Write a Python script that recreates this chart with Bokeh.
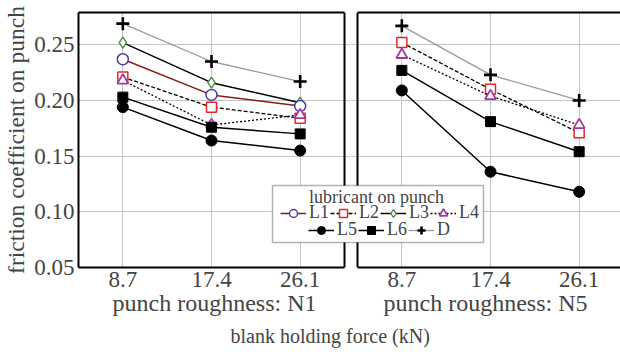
import numpy as np
from bokeh.plotting import figure
from bokeh.models import (Range1d, FixedTicker, Legend, LegendItem, BoxAnnotation,
                          Label, LinearAxis, ColumnDataSource, Span, Title)
from bokeh.layouts import row
from bokeh.embed import file_html
from bokeh.resources import INLINE

NA = float("nan")

# ---------------- data ----------------
force_kN = [8.7, 17.4, 26.1]
force_labels = ["8.7", "17.4", "26.1"]
y_ticks = [0.05, 0.10, 0.15, 0.20, 0.25]
y_tick_labels = ["0.05", "0.10", "0.15", "0.20", "0.25"]
lubricants = ["L1", "L2", "L3", "L4", "L5", "L6", "D"]
panel_titles = ["punch roughness: N1", "punch roughness: N5"]
x_title = "blank holding force (kN)"
y_title = "friction coefficient on punch"
legend_title = "lubricant on punch"

# punch roughness N1
n1_L1 = [0.237, 0.205, 0.195]
n1_L2 = [0.221, 0.194, 0.184]
n1_L3 = [0.252, 0.216, 0.198]
n1_L4 = [0.218, 0.178, 0.187]
n1_L5 = [0.194, 0.164, 0.155]
n1_L6 = [0.203, 0.176, 0.170]
n1_D = [0.269, 0.235, 0.217]

# punch roughness N5 (L1 and L3 not shown)
n5_L1 = [NA, NA, NA]
n5_L2 = [0.252, 0.210, 0.171]
n5_L3 = [NA, NA, NA]
n5_L4 = [0.241, 0.204, 0.178]
n5_L5 = [0.209, 0.136, 0.118]
n5_L6 = [0.227, 0.181, 0.154]
n5_D = [0.267, 0.223, 0.200]

panel_data = [
    dict(L1=n1_L1, L2=n1_L2, L3=n1_L3, L4=n1_L4, L5=n1_L5, L6=n1_L6, D=n1_D),
    dict(L1=n5_L1, L2=n5_L2, L3=n5_L3, L4=n5_L4, L5=n5_L5, L6=n5_L6, D=n5_D),
]

# ---------------- styles / layout ----------------
FONT = "Liberation Serif"
STYLE = {
    "L1": dict(lc="#8b1a1a", dash="solid", lw=1.5, marker="circle", mc="#4b3fa6", mf="white", ms=11, mlw=1.5),
    "L2": dict(lc="black", dash="4 2", lw=1.3, marker="square", mc="#e5262b", mf="white", ms=10, mlw=1.5),
    "L3": dict(lc="black", dash="solid", lw=1.5, marker="diamond", mc="#3c8c3c", mf="white", ms=11, mlw=1.3),
    "L4": dict(lc="black", dash="2 2", lw=1.3, marker="triangle", mc="#a23aa2", mf="white", ms=11, mlw=1.8),
    "L5": dict(lc="black", dash="solid", lw=1.5, marker="circle", mc="black", mf="black", ms=11, mlw=1),
    "L6": dict(lc="black", dash="solid", lw=1.5, marker="square", mc="black", mf="black", ms=10, mlw=1),
    "D": dict(lc="#9a9a9a", dash="solid", lw=1.3, marker="cross", mc="black", mf="black", ms=13, mlw=2.6),
}

H = 352
SPLIT = 350                       # page x where the two canvases meet
FRAME_TOP = 12
FRAME_BOTTOM = 267
X_PAD = 4.35
PANEL_BOX = [(78, 344), (357, 620)]   # page x of the panel borders
FRAME_X = [(78, SPLIT), (SPLIT, 620)]  # page x of each figure's frame
CANVAS_X = [(0, SPLIT), (SPLIT, 620)]
px_per_unit = (PANEL_BOX[0][1] - PANEL_BOX[0][0]) / (force_kN[-1] - force_kN[0] + 2 * X_PAD)


def no_ticks(ax):
    ax.major_tick_line_color = None
    ax.minor_tick_line_color = None
    ax.major_tick_in = 0
    ax.major_tick_out = 0


def make_panel(idx):
    left = idx == 0
    bl, br = PANEL_BOX[idx]
    fl, fr = FRAME_X[idx]
    cl, cr = CANVAS_X[idx]
    panel_x0 = force_kN[0] - X_PAD
    x_start = panel_x0 - (bl - fl) / px_per_unit
    x_end = x_start + (fr - fl) / px_per_unit
    panel_x1 = panel_x0 + (br - bl) / px_per_unit

    p = figure(width=cr - cl, height=H,
               x_range=Range1d(x_start, x_end), y_range=Range1d(0.05, 0.279),
               output_backend="svg", toolbar_location=None,
               min_border_left=fl - cl, min_border_right=cr - fr,
               min_border_top=FRAME_TOP, min_border_bottom=H - FRAME_BOTTOM)
    p.background_fill_color = "white"
    p.border_fill_color = "white"
    p.outline_line_color = None

    # grids limited to the panel box
    p.xgrid.ticker = FixedTicker(ticks=force_kN)
    p.ygrid.ticker = FixedTicker(ticks=y_ticks)
    p.xgrid.grid_line_color = "#c4c4c4"
    p.ygrid.grid_line_color = "#c4c4c4"
    p.ygrid.bounds = (panel_x0, panel_x1)

    # x axis (bottom border line + tick labels + panel title)
    xa = p.xaxis[0]
    xa.ticker = FixedTicker(ticks=force_kN)
    xa.major_label_overrides = dict(zip(force_kN, force_labels))
    xa.bounds = (panel_x0, panel_x1)
    no_ticks(xa)
    xa.axis_line_color = "black"
    xa.axis_line_width = 2
    xa.major_label_text_font = FONT
    xa.major_label_text_font_size = "23px"
    xa.major_label_standoff = 4
    xa.axis_label = panel_titles[idx]
    xa.axis_label_text_font = FONT
    xa.axis_label_text_font_style = "normal"
    xa.axis_label_text_font_size = "24px"
    xa.axis_label_standoff = 0

    # top border line
    top = LinearAxis(ticker=FixedTicker(ticks=[]), axis_line_color="black",
                     axis_line_width=2, major_label_text_font_size="0px",
                     bounds=(panel_x0, panel_x1))
    no_ticks(top)
    p.add_layout(top, "above")

    ya = p.yaxis[0]
    ya.ticker = FixedTicker(ticks=y_ticks)
    ya.major_label_overrides = dict(zip(y_ticks, y_tick_labels))
    no_ticks(ya)
    if left:
        ya.axis_line_color = "black"
        ya.axis_line_width = 2
        ya.major_label_text_font = FONT
        ya.major_label_text_font_size = "23px"
        ya.major_label_standoff = 4
        ya.axis_label = y_title
        ya.axis_label_text_font = FONT
        ya.axis_label_text_font_style = "normal"
        ya.axis_label_text_font_size = "23.5px"
        ya.axis_label_standoff = 2
        side = Span(location=panel_x1, dimension="height", line_color="black", line_width=2)
    else:
        ya.visible = False
        side = Span(location=panel_x0, dimension="height", line_color="black", line_width=2)
    p.add_layout(side)

    data = panel_data[idx]
    items = {}
    for name in ["D", "L3", "L1", "L2", "L4", "L6", "L5"]:
        st = STYLE[name]
        src = ColumnDataSource(dict(x=np.array(force_kN), y=np.array(data[name], dtype=float)))
        r1 = p.line("x", "y", source=src, line_color=st["lc"], line_width=st["lw"],
                    line_dash=st["dash"])
        r2 = p.scatter("x", "y", source=src, marker=st["marker"], size=st["ms"],
                       line_color=st["mc"], fill_color=st["mf"], line_width=st["mlw"])
        items[name] = [r1, r2]

    # ---- shared legend in page coordinates (drawn in both panels, clipped at the seam) ----
    def sx(page_x):
        return page_x - fl

    def sy(page_y):
        return FRAME_BOTTOM - page_y

    box = BoxAnnotation(left=sx(272), right=sx(483), top=sy(185), bottom=sy(242),
                        left_units="screen", right_units="screen",
                        top_units="screen", bottom_units="screen",
                        fill_color="white", fill_alpha=1.0,
                        line_color="black", line_width=1.5)
    p.add_layout(box)
    ttl = Label(x=sx(376), y=sy(196), x_units="screen", y_units="screen",
                text=legend_title, text_align="center", text_baseline="middle",
                text_font=FONT, text_font_size="18px")
    p.add_layout(ttl)

    def legend(names, page_x, page_y_center):
        lg = Legend(items=[LegendItem(label=n, renderers=items[n]) for n in names],
                    orientation="horizontal", location=(sx(page_x), sy(page_y_center + 10)),
                    border_line_color=None, background_fill_alpha=0.0,
                    padding=0, margin=0, spacing=1, glyph_width=26, glyph_height=20,
                    label_standoff=3, label_text_font=FONT, label_text_font_size="18px",
                    label_height=20)
        p.add_layout(lg)

    legend(["L1", "L2", "L3", "L4"], 280, 213)
    legend(["L5", "L6", "D"], 308, 230)

    # common x title, split across both canvases
    xt = Title(text=x_title, align="left", offset=230 - fl, text_font=FONT,
               text_font_size="20px", text_font_style="normal", standoff=8)
    p.add_layout(xt, "below")
    return p


p = row(make_panel(0), make_panel(1))
open("out.html", "w").write(file_html(p, INLINE))
